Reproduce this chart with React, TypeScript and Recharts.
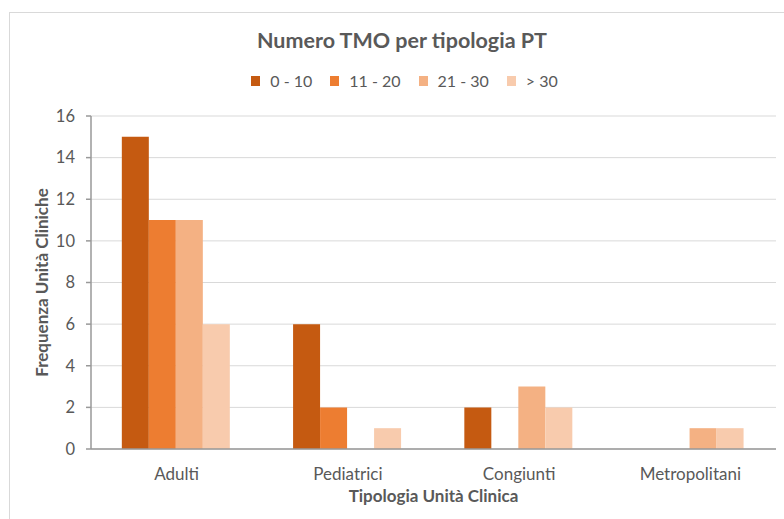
import { BarChart, Bar, XAxis, YAxis, CartesianGrid } from 'recharts';

const categories = ['Adulti', 'Pediatrici', 'Congiunti', 'Metropolitani'];
const serie0_10 = [15, 6, 2, 0];
const serie11_20 = [11, 2, 0, 0];
const serie21_30 = [11, 0, 3, 1];
const serieOltre30 = [6, 1, 2, 1];

const seriesNames = ['0 - 10', '11 - 20', '21 - 30', '> 30'];
const seriesColors = ['#C55A11', '#ED7D31', '#F4B183', '#F8CBAD'];
const yTicks = [0, 2, 4, 6, 8, 10, 12, 14, 16];

const FONT = 'Lato, "Open Sans", sans-serif';
const TEXT = '#595959';
const AXIS = '#999999';

const data = categories.map((name, i) => ({
  name,
  s1: serie0_10[i],
  s2: serie11_20[i],
  s3: serie21_30[i],
  s4: serieOltre30[i],
}));

const App = () => {
  return (
    <div
      style={{
        position: 'absolute',
        left: 0,
        top: 0,
        width: 784,
        height: 519,
        overflow: 'hidden',
        background: '#fff',
        fontFamily: FONT,
      }}
    >
      {/* bordo del grafico */}
      <div
        style={{
          position: 'absolute',
          left: 9,
          top: 12,
          width: 900,
          height: 600,
          border: '1px solid #D9D9D9',
        }}
      />
      <div
        style={{
          position: 'absolute',
          top: 27,
          left: 0,
          width: 804,
          textAlign: 'center',
          fontSize: 21.5,
          fontWeight: 700,
          color: TEXT,
        }}
      >
        Numero TMO per tipologia PT
      </div>
      <div
        style={{
          position: 'absolute',
          top: 71,
          left: 0,
          width: 809,
          display: 'flex',
          justifyContent: 'center',
          fontSize: 16,
          color: TEXT,
        }}
      >
        {seriesNames.map((n, i) => (
          <div key={n} style={{ display: 'flex', alignItems: 'center', marginRight: i < 3 ? 18 : 0 }}>
            <span style={{ width: 9, height: 10, background: seriesColors[i], marginRight: 10 }} />
            <span>{n}</span>
          </div>
        ))}
      </div>
      <div style={{ position: 'absolute', left: 0, top: 0 }}>
        <BarChart
          width={784}
          height={519}
          data={data}
          margin={{ top: 116, right: 8, bottom: 0, left: 0 }}
          barCategoryGap="18%"
          barGap={0}
        >
          <CartesianGrid vertical={false} stroke="#D9D9D9" xAxisId="cat" />
          <XAxis
            dataKey="name"
            xAxisId="cat"
            height={69}
            axisLine={false}
            tickLine={false}
            tickMargin={12}
            tick={{ fill: TEXT, fontSize: 17, fontFamily: FONT }}
            label={{
              content: (props: any) => {
                const vb = props.viewBox;
                return (
                  <text
                    x={vb.x + vb.width / 2}
                    y={502}
                    textAnchor="middle"
                    fill={TEXT}
                    fontSize={17}
                    fontWeight={700}
                    fontFamily={FONT}
                  >
                    Tipologia Unità Clinica
                  </text>
                );
              },
            }}
          />
          {/* asse secondario: solo linea e tacche ai bordi delle categorie */}
          <XAxis
            xAxisId="bordi"
            type="number"
            domain={[0, 4]}
            ticks={[0, 1, 2, 3, 4]}
            allowDataOverflow
            height={1}
            tick={false}
            tickSize={5}
            axisLine={{ stroke: AXIS, strokeWidth: 1.5 }}
            tickLine={{ stroke: AXIS, strokeWidth: 1.5 }}
          />
          <YAxis
            width={91}
            domain={[0, 16]}
            ticks={yTicks}
            tickSize={5}
            tickMargin={11}
            axisLine={{ stroke: AXIS, strokeWidth: 1.5 }}
            tickLine={{ stroke: AXIS, strokeWidth: 1.5 }}
            tick={{ fill: TEXT, fontSize: 16.5, fontFamily: FONT }}
            label={{
              content: (props: any) => {
                const vb = props.viewBox;
                const cy = vb.y + vb.height / 2;
                return (
                  <text
                    x={48}
                    y={cy}
                    transform={`rotate(-90 48 ${cy})`}
                    textAnchor="middle"
                    fill={TEXT}
                    fontSize={17}
                    fontWeight={700}
                    fontFamily={FONT}
                  >
                    Frequenza Unità Cliniche
                  </text>
                );
              },
            }}
          />
          {['s1', 's2', 's3', 's4'].map((k, i) => (
            <Bar
              key={k}
              dataKey={k}
              xAxisId="cat"
              name={seriesNames[i]}
              fill={seriesColors[i]}
              isAnimationActive={false}
            />
          ))}
        </BarChart>
      </div>
    </div>
  );
};

export default App;
